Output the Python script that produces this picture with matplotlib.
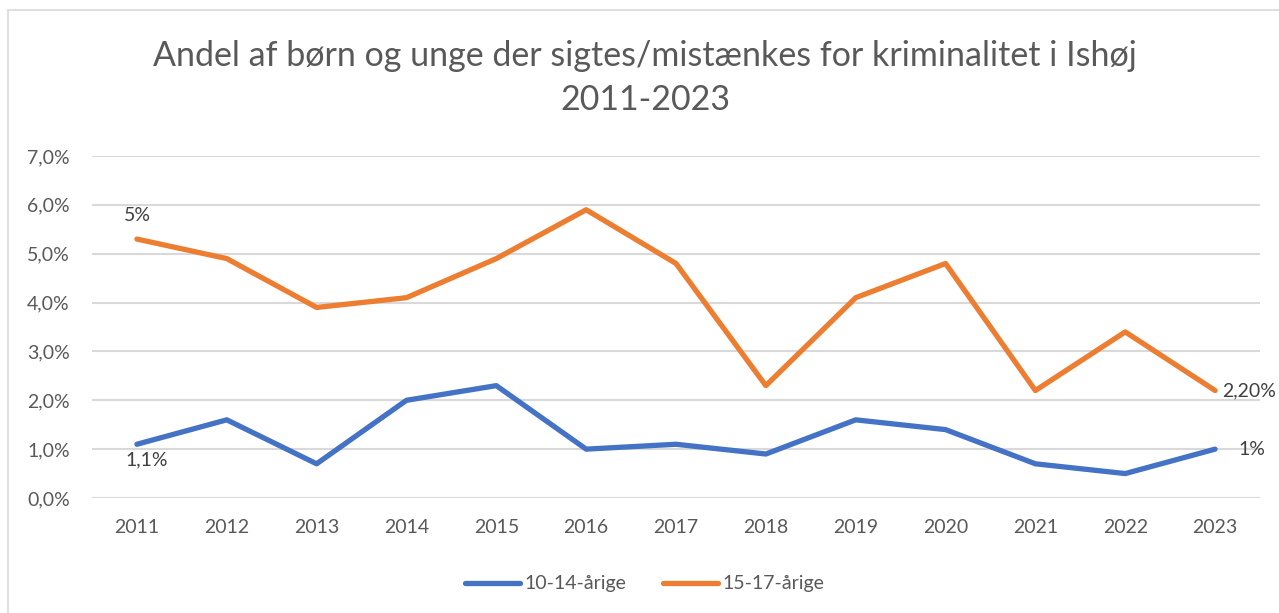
import matplotlib as mpl
import matplotlib.pyplot as plt
import numpy as np

years = ['2011', '2012', '2013', '2014', '2015', '2016', '2017',
         '2018', '2019', '2020', '2021', '2022', '2023']
age_10_14 = [1.1, 1.6, 0.7, 2.0, 2.3, 1.0, 1.1, 0.9, 1.6, 1.4, 0.7, 0.5, 1.0]
age_15_17 = [5.3, 4.9, 3.9, 4.1, 4.9, 5.9, 4.8, 2.3, 4.1, 4.8, 2.2, 3.4, 2.2]
labels_10_14 = {0: '1,1%', 12: '1%'}
labels_15_17 = {0: '5%', 12: '2,20%'}
yticks = [0, 1, 2, 3, 4, 5, 6, 7]

title = 'Andel af børn og unge der sigtes/mistænkes for kriminalitet i Ishøj\n2011-2023'

blue = '#4472c4'
orange = '#ed7d31'
grey = '#595959'


def main():
    mpl.rcParams['font.family'] = ['Lato', 'DejaVu Sans']
    fig = plt.figure(figsize=(12.79, 6.13), dpi=100)
    W, H = 1279., 613.
    # plot area in pixels: x 92..1260, y 156..498
    ax = fig.add_axes([92 / W, 1 - 498 / H, (1260 - 92) / W, (498 - 156) / H])

    # chart border
    fig.patches.append(mpl.patches.Rectangle(
        (8 / W, -0.1), 1.2, 1 - 10 / H + 0.1, transform=fig.transFigure,
        fill=False, edgecolor='#d9d9d9', linewidth=1.2))

    x = np.arange(len(years))
    ax.plot(x, age_10_14, color=blue, lw=3.8, solid_capstyle='round',
            solid_joinstyle='round', label='10-14-årige', zorder=3)
    ax.plot(x, age_15_17, color=orange, lw=3.8, solid_capstyle='round',
            solid_joinstyle='round', label='15-17-årige', zorder=3)

    ax.set_xlim(-0.5, len(years) - 0.5)
    ax.set_ylim(0, 7)
    ax.set_yticks(yticks)
    ax.set_yticklabels(['%d,0%%' % v for v in yticks])
    ax.set_xticks(x)
    ax.set_xticklabels(years)
    ax.tick_params(length=0, labelsize=14, colors=grey)
    ax.tick_params(axis='x', pad=15)
    ax.tick_params(axis='y', pad=16)
    ax.grid(axis='y', color='#d9d9d9', lw=1.5)
    ax.set_axisbelow(True)
    for s in ax.spines.values():
        s.set_visible(False)

    # data labels
    for i, t in labels_15_17.items():
        if i == 0:
            ax.annotate(t, (x[i], age_15_17[i]), xytext=(0, 11),
                        textcoords='offset points', ha='center', va='bottom',
                        fontsize=14, color='#404040')
        else:
            ax.annotate(t, (x[i], age_15_17[i]), xytext=(5, 0),
                        textcoords='offset points', ha='left', va='center',
                        fontsize=14, color='#404040', annotation_clip=False)
    for i, t in labels_10_14.items():
        if i == 0:
            ax.annotate(t, (x[i], age_10_14[i]), xytext=(7, -5),
                        textcoords='offset points', ha='center', va='top',
                        fontsize=14, color='#404040')
        else:
            ax.annotate(t, (x[i], age_10_14[i]), xytext=(17, 0),
                        textcoords='offset points', ha='left', va='center',
                        fontsize=14, color='#404040')

    fig.text(645 / W, 1 - 78 / H, title, ha='center', va='center',
             fontsize=24.5, color=grey, linespacing=1.5)

    fig.legend(loc='center', bbox_to_anchor=(645 / W, 1 - 584 / H),
               ncol=2, frameon=False, fontsize=14, labelcolor=grey,
               handlelength=2.8, handletextpad=0.25, columnspacing=1.9)

    fig.savefig('out.png', dpi=100)
    plt.close(fig)


if __name__ == '__main__':
    main()
